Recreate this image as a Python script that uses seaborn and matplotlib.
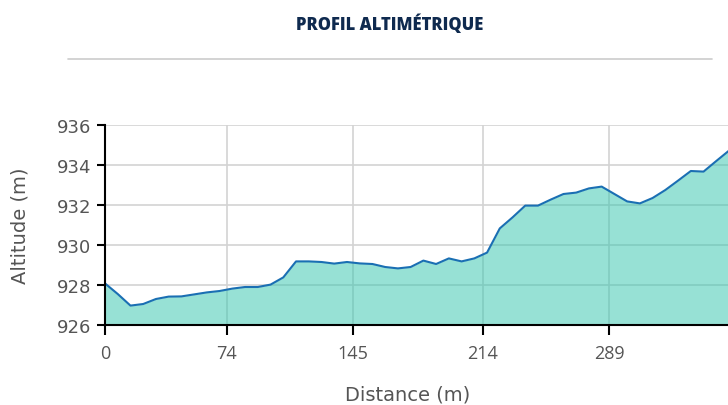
import numpy as np
import pandas as pd
import seaborn as sns
import matplotlib.pyplot as plt

# altitude samples (m), evenly spaced along the track
altitude = [928.08, 927.55, 926.97, 927.05, 927.30, 927.42, 927.43, 927.53, 927.63, 927.70,
            927.82, 927.90, 927.90, 928.02, 928.38, 929.18, 929.18, 929.15, 929.07, 929.15,
            929.08, 929.05, 928.90, 928.83, 928.90, 929.22, 929.05, 929.33, 929.18, 929.33,
            929.62, 930.83, 931.38, 931.97, 931.97, 932.27, 932.55, 932.62, 932.83, 932.92,
            932.55, 932.18, 932.08, 932.35, 932.75, 933.22, 933.70, 933.67, 934.20, 934.72]
dist_labels = ['0', '74', '145', '214', '289']
dist_ticks = [0, 9.56, 19.5, 29.66, 39.6]   # sample index where each label sits
alt_ticks = [926, 928, 930, 932, 934, 936]

df = pd.DataFrame({'idx': np.arange(len(altitude)), 'alt': altitude})

sns.set_style('white')
plt.rcParams['font.family'] = ['DejaVu Sans']

fig = plt.figure(figsize=(7.28, 4.06), dpi=100)
ax = fig.add_axes([105/728, 80/406, 1 - 105/728, 200/406])

ax.fill_between(df['idx'], df['alt'], 926, color='#31c5ad', alpha=0.5, lw=0, zorder=2)
sns.lineplot(data=df, x='idx', y='alt', color='#1a6fb3', lw=1.5, ax=ax, zorder=3)

ax.set_xlim(0, 48.92)
ax.set_ylim(926, 936)
ax.set_yticks(alt_ticks)
ax.set_xticks(dist_ticks)
ax.set_xticklabels(dist_labels)
ax.grid(True, color='#d3d3d3', lw=1.2, zorder=1)
ax.set_axisbelow(True)

for s in ['top', 'right']:
    ax.spines[s].set_visible(False)
for s in ['left', 'bottom']:
    ax.spines[s].set_color('black')
    ax.spines[s].set_linewidth(1.5)
    ax.spines[s].set_zorder(4)

ax.tick_params(axis='y', left=True, length=6, width=1.5, color='black', labelsize=13,
               labelcolor='#555555', pad=4)
ax.tick_params(axis='x', bottom=True, length=7, width=1.5, color='black', labelsize=13,
               labelcolor='#555555', pad=7)
for lab in ax.get_xticklabels():
    lab.set_family('Open Sans')

ax.set_xlabel('')
ax.set_ylabel('')
fig.text(20/728, 1 - 226/406, 'Altitude (m)', rotation=90, ha='center', va='center',
         fontsize=14, color='#555555')
fig.text(408/728, 1 - 395/406, 'Distance (m)', ha='center', va='center',
         fontsize=14, color='#555555')

fig.text(390/728, 1 - 24/406, 'PROFIL ALTIMÉTRIQUE', ha='center', va='center',
         fontsize=12, fontweight='heavy', family='Open Sans', color='#0f2a4f')
fig.add_artist(plt.Line2D([68/728, 712/728], [1 - 60/406, 1 - 60/406],
                          color='#cccccc', lw=1.2, transform=fig.transFigure))

fig.savefig('out.png', dpi=100)
